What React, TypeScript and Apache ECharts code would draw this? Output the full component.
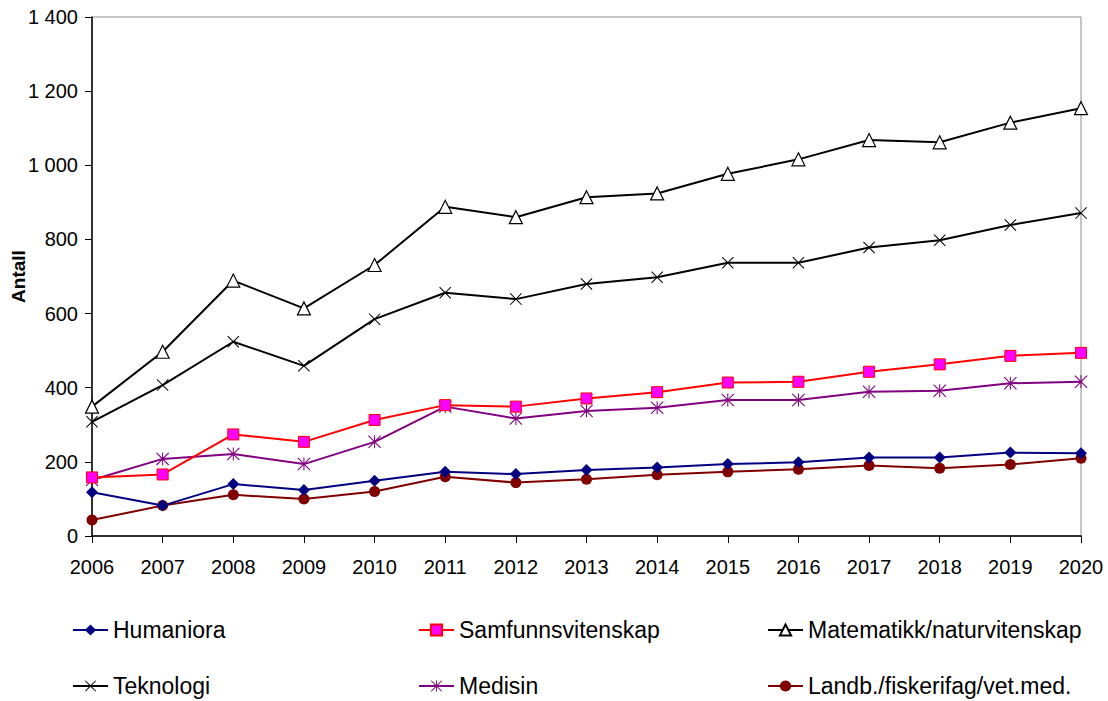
import React, { useEffect, useRef } from "react";
import * as echarts from "echarts";

const years = ["2006", "2007", "2008", "2009", "2010", "2011", "2012", "2013", "2014", "2015", "2016", "2017", "2018", "2019", "2020"];
const humaniora = [118, 82, 140, 124, 149, 173, 167, 178, 185, 194, 199, 212, 212, 225, 223];
const samfunn = [158, 166, 274, 254, 313, 353, 349, 371, 388, 414, 416, 443, 463, 486, 494];
const matnat = [349, 497, 689, 614, 731, 888, 860, 914, 924, 977, 1016, 1068, 1062, 1115, 1154];
const teknologi = [308, 407, 524, 459, 585, 656, 639, 680, 698, 737, 737, 778, 798, 839, 871];
const medisin = [151, 208, 221, 194, 254, 349, 317, 337, 346, 367, 367, 389, 392, 412, 416];
const landbruk = [43, 82, 111, 100, 120, 160, 144, 153, 165, 173, 180, 190, 183, 193, 210];

const names = [
  "Humaniora",
  "Samfunnsvitenskap",
  "Matematikk/naturvitenskap",
  "Teknologi",
  "Medisin",
  "Landb./fiskerifag/vet.med.",
];

const X_PATH =
  "path://M0,6 L6,0 L50,44 L94,0 L100,6 L56,50 L100,94 L94,100 L50,56 L6,100 L0,94 L44,50 Z";
const STAR_PATH =
  "path://M0,6 L6,0 L50,44 L94,0 L100,6 L56,50 L100,94 L94,100 L50,56 L6,100 L0,94 L44,50 Z M46,0 L54,0 L54,100 L46,100 Z";

const FONT = "'Liberation Sans', Arial, sans-serif";

export default function App() {
  const ref = useRef<HTMLDivElement>(null);

  useEffect(() => {
    document.body.style.margin = "0";
    if (!ref.current) return;
    const chart = echarts.init(ref.current, undefined, { renderer: "svg" });

    const mk = (
      name: string,
      data: number[],
      lineColor: string,
      symbol: string,
      symbolSize: number,
      fill: string,
      border: string,
      borderWidth: number
    ) => ({
      name,
      type: "line",
      data,
      symbol,
      symbolSize,
      showAllSymbol: true,
      lineStyle: { color: lineColor, width: 2 },
      itemStyle: { color: fill, borderColor: border, borderWidth },
      emphasis: { disabled: true },
    });

    const legendPos = [
      { left: 72, top: 618 },
      { left: 418, top: 618 },
      { left: 767, top: 618 },
      { left: 72, top: 674 },
      { left: 418, top: 674 },
      { left: 767, top: 674 },
    ];

    chart.setOption({
      animation: false,
      textStyle: { fontFamily: FONT },
      grid: {
        left: 92,
        right: 27,
        top: 17,
        bottom: 165,
        outerBoundsMode: "none",
        containLabel: false,
        show: true,
        borderColor: "#8c8c8c",
        borderWidth: 1,
        backgroundColor: "transparent",
      },
      legend: names.map((n, i) => ({
        data: [n],
        left: legendPos[i].left,
        top: legendPos[i].top,
        padding: 0,
        itemWidth: 35,
        itemHeight: 14,
        selectedMode: false,
        textStyle: { fontSize: 23, lineHeight: 24, color: "#000", fontFamily: FONT },
      })),
      xAxis: {
        type: "category",
        data: years,
        boundaryGap: false,
        axisLine: { lineStyle: { color: "#000", width: 1.5 } },
        axisTick: { show: true, length: 7, lineStyle: { color: "#000" }, alignWithLabel: true },
        axisLabel: { fontSize: 20, color: "#000", margin: 21, fontFamily: FONT },
        splitLine: { show: false },
      },
      yAxis: {
        type: "value",
        min: 0,
        max: 1400,
        interval: 200,
        name: "Antall",
        nameLocation: "middle",
        nameRotate: 90,
        nameGap: 64,
        nameMoveOverlap: false,
        nameTextStyle: { fontSize: 19, fontWeight: "bold", color: "#000", fontFamily: FONT },
        axisLine: { show: true, lineStyle: { color: "#000", width: 1.5 } },
        axisTick: { show: true, length: 7, lineStyle: { color: "#000" } },
        axisLabel: {
          fontSize: 20,
          color: "#000",
          margin: 14,
          fontFamily: FONT,
          formatter: (v: number) => (v >= 1000 ? `${Math.floor(v / 1000)} ${String(v % 1000).padStart(3, "0")}` : String(v)),
        },
        splitLine: { show: false },
      },
      series: [
        mk(names[5], landbruk, "#800000", "circle", 11, "#800000", "#800000", 0),
        mk(names[0], humaniora, "#000080", "diamond", 12, "#000080", "#000080", 0),
        mk(names[4], medisin, "#800080", STAR_PATH, 13, "#800080", "#800080", 0),
        mk(names[1], samfunn, "#FF0000", "rect", 11, "#FF00FF", "#FF0000", 1),
        mk(names[3], teknologi, "#000000", X_PATH, 12, "#000000", "#000000", 0),
        mk(names[2], matnat, "#000000", "triangle", 13, "#FFFFFF", "#000000", 1.2),
      ],
    });

    return () => chart.dispose();
  }, []);

  return <div ref={ref} style={{ width: 1108, height: 701 }} />;
}
